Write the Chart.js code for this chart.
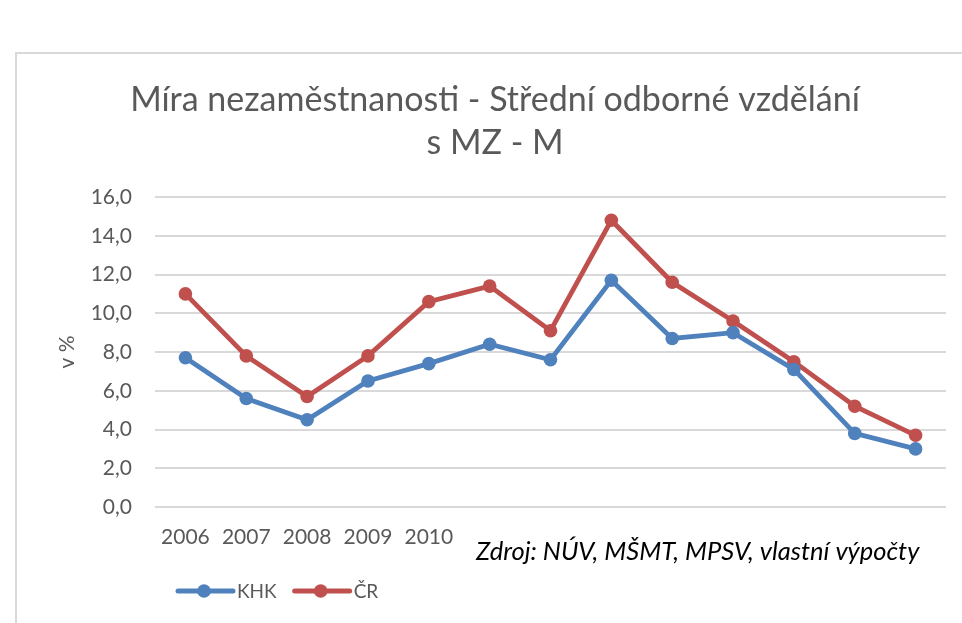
<!DOCTYPE html>
<html>
<head>
<meta charset="utf-8">
<script src="https://cdn.jsdelivr.net/npm/chart.js@4/dist/chart.umd.min.js"></script>
<style>
  html, body { margin: 0; padding: 0; background: #ffffff; }
  #wrap { width: 962px; height: 623px; position: relative; }
</style>
</head>
<body>
<div id="wrap"><canvas id="c" width="962" height="623"></canvas></div>
<script>
const years = ['2006','2007','2008','2009','2010','2011','2012','2013','2014','2015','2016','2017','2018'];
const khk = [7.7, 5.6, 4.5, 6.5, 7.4, 8.4, 7.6, 11.7, 8.7, 9.0, 7.1, 3.8, 3.0];
const cr  = [11.0, 7.8, 5.7, 7.8, 10.6, 11.4, 9.1, 14.8, 11.6, 9.6, 7.5, 5.2, 3.7];
const seriesNames = ['KHK', 'ČR'];
const titleLines = ['Míra nezaměstnanosti - Střední odborné vzdělání', 's MZ - M'];
const yAxisTitle = 'v %';
const sourceNote = 'Zdroj: NÚV, MŠMT, MPSV, vlastní výpočty';

const BLUE = '#4F81BD';
const RED = '#C0504D';
const TXT = '#595959';
const FONT = 'Lato, "Open Sans", sans-serif';

const framePlugin = {
  id: 'frame',
  beforeDraw(chart) {
    const ctx = chart.ctx;
    ctx.save();
    ctx.fillStyle = '#ffffff';
    ctx.fillRect(0, 0, chart.width, chart.height);
    ctx.strokeStyle = '#d9d9d9';
    ctx.lineWidth = 2;
    ctx.strokeRect(16, 53, chart.width + 20, chart.height + 20);
    ctx.restore();
  },
  afterDraw(chart) {
    const ctx = chart.ctx;
    ctx.save();
    // source note box (covers later year labels as in the original)
    ctx.fillStyle = '#ffffff';
    ctx.fillRect(462, 522, 484, 46);
    ctx.fillStyle = '#000000';
    ctx.font = 'italic 25.5px ' + FONT;
    ctx.textBaseline = 'alphabetic';
    ctx.textAlign = 'left';
    ctx.fillText(sourceNote, 476, 560);
    // legend
    let x = 178;
    const y = 591;
    ctx.textBaseline = 'middle';
    chart.data.datasets.forEach((ds) => {
      ctx.strokeStyle = ds.borderColor;
      ctx.lineWidth = 5;
      ctx.lineCap = 'round';
      ctx.beginPath();
      ctx.moveTo(x, y);
      ctx.lineTo(x + 55, y);
      ctx.stroke();
      ctx.fillStyle = ds.borderColor;
      ctx.beginPath();
      ctx.arc(x + 26, y, 6.8, 0, Math.PI * 2);
      ctx.fill();
      ctx.fillStyle = TXT;
      ctx.font = '19px ' + FONT;
      ctx.fillText(ds.label, x + 59, y + 1);
      x += 59 + ctx.measureText(ds.label).width + 18;
    });
    ctx.restore();
  }
};

new Chart(document.getElementById('c'), {
  type: 'line',
  data: {
    labels: years,
    datasets: [
      { label: seriesNames[0], data: khk, borderColor: BLUE, backgroundColor: BLUE,
        borderWidth: 4.8, pointRadius: 6.8, pointHoverRadius: 6.8, pointBorderWidth: 0, tension: 0 },
      { label: seriesNames[1], data: cr, borderColor: RED, backgroundColor: RED,
        borderWidth: 4.8, pointRadius: 6.8, pointHoverRadius: 6.8, pointBorderWidth: 0, tension: 0 }
    ]
  },
  options: {
    responsive: false,
    animation: false,
    events: [],
    layout: { padding: { left: 44, right: 16, top: 0, bottom: 0 } },
    plugins: {
      legend: { display: false },
      tooltip: { enabled: false },
      title: {
        display: true,
        text: titleLines,
        color: TXT,
        font: { family: FONT, size: 34, weight: '400', lineHeight: 43 / 34 },
        padding: { top: 78.5, bottom: 32.5 }
      }
    },
    scales: {
      x: {
        offset: true,
        grid: { display: false, drawTicks: false },
        border: { display: false },
        ticks: { color: TXT, font: { family: FONT, size: 21 }, padding: 18, maxRotation: 0, autoSkip: false },
        afterFit(scale) { scale.height = 116; }
      },
      y: {
        min: 0, max: 16,
        grid: { color: '#d9d9d9', lineWidth: 2, drawTicks: false },
        border: { display: false },
        ticks: {
          stepSize: 2, color: TXT, font: { family: FONT, size: 21 }, padding: 23,
          callback: (v) => v.toFixed(1).replace('.', ',')
        },
        title: { display: true, text: yAxisTitle, color: TXT, font: { family: FONT, size: 21 }, padding: { top: 10.4, bottom: 0 } },
        afterFit(scale) { scale.width = 111; }
      }
    }
  },
  plugins: [framePlugin]
});
</script>
</body>
</html>
